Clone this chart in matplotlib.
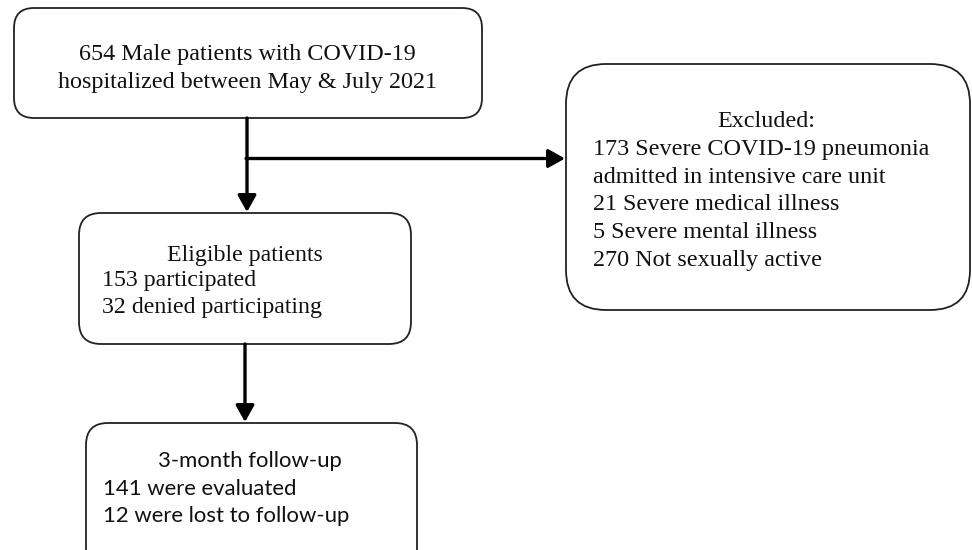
import matplotlib
matplotlib.use("Agg")
import matplotlib.pyplot as plt
from matplotlib.patches import FancyBboxPatch

# ---- content ----
box1_lines = ["654 Male patients with COVID-19", "hospitalized between May & July 2021"]
excl_title = "Excluded:"
excl_lines = ["173 Severe COVID-19 pneumonia", "admitted in intensive care unit",
              "21 Severe medical illness", "5 Severe mental illness", "270 Not sexually active"]
elig_title = "Eligible patients"
elig_lines = ["153 participated", "32 denied participating"]
fu_title = "3-month follow-up"
fu_lines = ["141 were evaluated", "12 were lost to follow-up"]

W, H = 972, 550
fig = plt.figure(figsize=(W / 100, H / 100), dpi=100)
ax = fig.add_axes([0, 0, 1, 1])
ax.set_xlim(0, W)
ax.set_ylim(H, 0)
ax.axis("off")

serif = ["Liberation Serif", "DejaVu Serif"]
sans = ["Lato", "DejaVu Sans"]
FS = 17.4
FS2 = 17.2
FS_SANS = 15.9


def rbox(x0, y0, x1, y1, r):
    p = FancyBboxPatch((x0, y0), x1 - x0, y1 - y0,
                       boxstyle=f"round,pad=0,rounding_size={r}",
                       fc="white", ec="#222222", lw=1.3, zorder=2)
    ax.add_patch(p)


def arrow(x0, y0, x1, y1):
    ax.annotate("", xy=(x1, y1), xytext=(x0, y0),
                arrowprops=dict(arrowstyle="-|>,head_length=0.5,head_width=0.28",
                                lw=2.4, color="black", shrinkA=0, shrinkB=0,
                                mutation_scale=20), zorder=3)


def txt(x, y, s, ha, family, fs):
    ax.text(x, y, s, ha=ha, va="baseline", family=family, fontsize=fs,
            color="#111111", zorder=4)


# boxes
rbox(14, 8, 482, 118, 20)
rbox(566, 64, 970, 310, 40)
rbox(79, 213, 411, 344, 22)
rbox(86, 423, 417, 570, 22)

# connectors
arrow(247, 118, 247, 212)
arrow(246, 158.5, 565, 158.5)
arrow(245, 344, 245, 422)

# box1 text
for i, t in enumerate(box1_lines):
    txt(247, 60 + i * 28, t, "center", serif, FS)

# excluded text
txt(766, 127, excl_title, "center", serif, FS)
for i, t in enumerate(excl_lines):
    txt(593, 155 + i * 27.7, t, "left", serif, FS)

# eligible text
txt(167, 261, elig_title, "left", serif, FS2)
for i, t in enumerate(elig_lines):
    txt(102, 286 + i * 26.5, t, "left", serif, FS2)

# follow-up text
txt(158, 467, fu_title, "left", sans, FS_SANS)
for i, t in enumerate(fu_lines):
    txt(103, 495 + i * 27, t, "left", sans, FS_SANS)

fig.savefig("out.png", dpi=100)
